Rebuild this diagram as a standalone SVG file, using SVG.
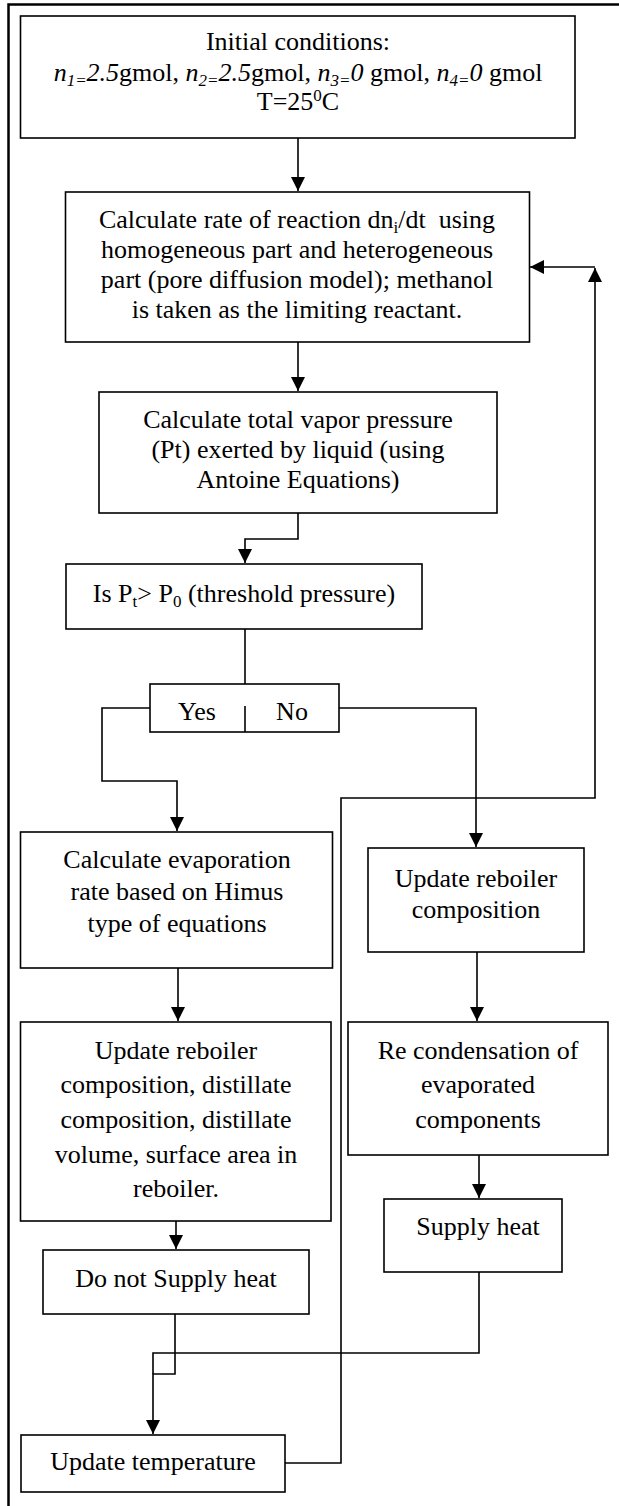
<svg xmlns="http://www.w3.org/2000/svg" width="619" height="1506" viewBox="0 0 619 1506">
<style>
.box{fill:#fff;stroke:#000;stroke-width:1.6}
.t{font-family:"Liberation Serif","Times New Roman",serif;font-size:26px;fill:#000;text-anchor:middle}
.s{font-size:17px}
.i{font-style:italic}
.c{fill:none;stroke:#000;stroke-width:1.6}
.a{marker-end:url(#ah)}
.frame{fill:none;stroke:#000;stroke-width:2.5}
</style>
<defs>
<marker id="ah" markerUnits="userSpaceOnUse" markerWidth="16" markerHeight="16" refX="14" refY="7" orient="auto">
<path d="M0,0 L14,7 L0,14 z" fill="#000"/>
</marker>
</defs>
<rect width="619" height="1506" fill="#fff"/>
<path class="frame" d="M619,4.5 L8.5,4.5 L8.5,1506"/>

<g id="connectors">
<path class="c a" d="M298,138 L298,191"/>
<path class="c a" d="M285,1463 L341,1463 L341,798 L595,798 L595,268"/>
<path class="c a" d="M595,267 L530,267"/>
<path class="c a" d="M298,342 L298,391"/>
<path class="c a" d="M298,513 L298,539 L245,539 L245,563"/>
<path class="c a" d="M245,629 L245,706"/>
<path class="c a" d="M150,708 L102,708 L102,781 L177,781 L177,831"/>
<path class="c a" d="M339,708 L476,708 L476,847"/>
<path class="c a" d="M178,968 L178,1021"/>
<path class="c a" d="M477,952 L477,1021"/>
<path class="c a" d="M479,1155 L479,1198"/>
<path class="c a" d="M176,1221 L176,1249"/>
<path class="c a" d="M175,1314 L175,1374 L153,1374 L153,1434"/>
<path class="c" d="M479,1272 L479,1353 L153,1353 L153,1374"/>
</g>

<g id="initial">
<rect class="box" x="20.5" y="16" width="554.5" height="122"/>
<text class="t" x="298" y="50">Initial conditions:</text>
<text class="t" x="298" y="81"><tspan class="i">n</tspan><tspan class="i s" dy="5">1=</tspan><tspan class="i" dy="-5">2.5</tspan>gmol, <tspan class="i">n</tspan><tspan class="i s" dy="5">2=</tspan><tspan class="i" dy="-5">2.5</tspan>gmol, <tspan class="i">n</tspan><tspan class="i s" dy="5">3=</tspan><tspan class="i" dy="-5">0</tspan> gmol, <tspan class="i">n</tspan><tspan class="i s" dy="5">4=</tspan><tspan class="i" dy="-5">0</tspan> gmol</text>
<text class="t" x="298" y="110">T=25<tspan class="s" dy="-9">0</tspan><tspan dy="9">C</tspan></text>
</g>

<g id="rate">
<rect class="box" x="65.5" y="192" width="464" height="150"/>
<text class="t" x="297" y="228">Calculate rate of reaction dn<tspan class="s" dy="5">i</tspan><tspan dy="-5">/dt&#160; using</tspan></text>
<text class="t" x="297" y="258">homogeneous part and heterogeneous</text>
<text class="t" x="297" y="288">part (pore diffusion model); methanol</text>
<text class="t" x="297" y="318">is taken as the limiting reactant.</text>
</g>

<g id="vapor">
<rect class="box" x="99" y="392" width="398" height="121"/>
<text class="t" x="298" y="428">Calculate total vapor pressure</text>
<text class="t" x="298" y="458">(Pt) exerted by liquid (using</text>
<text class="t" x="298" y="488">Antoine Equations)</text>
</g>

<g id="decision">
<rect class="box" x="66" y="564" width="356" height="65"/>
<text class="t" x="244" y="602">Is P<tspan class="s" dy="5">t</tspan><tspan dy="-5">&gt; P</tspan><tspan class="s" dy="5">0</tspan><tspan dy="-5"> (threshold pressure)</tspan></text>
</g>

<g id="yesno">
<rect class="box" x="150" y="684" width="189" height="48"/>
<path class="c" d="M245,706 L245,732"/>
<text class="t" x="197" y="720">Yes</text>
<text class="t" x="292" y="720">No</text>
</g>

<g id="evaporation">
<rect class="box" x="20.5" y="832" width="312" height="136"/>
<text class="t" x="177" y="868">Calculate evaporation</text>
<text class="t" x="177" y="900">rate based on Himus</text>
<text class="t" x="177" y="932">type of equations</text>
</g>

<g id="update-reboiler">
<rect class="box" x="368" y="848" width="216" height="104"/>
<text class="t" x="476" y="887">Update reboiler</text>
<text class="t" x="476" y="918">composition</text>
</g>

<g id="update-all">
<rect class="box" x="20.5" y="1022" width="310.5" height="199"/>
<text class="t" x="176" y="1059">Update reboiler</text>
<text class="t" x="176" y="1093">composition, distillate</text>
<text class="t" x="176" y="1128">composition, distillate</text>
<text class="t" x="176" y="1163">volume, surface area in</text>
<text class="t" x="176" y="1197">reboiler.</text>
</g>

<g id="recondensation">
<rect class="box" x="348" y="1022" width="260" height="133"/>
<text class="t" x="478" y="1059">Re condensation of</text>
<text class="t" x="478" y="1093">evaporated</text>
<text class="t" x="478" y="1128">components</text>
</g>

<g id="supply-heat">
<rect class="box" x="384" y="1199" width="178" height="73"/>
<text class="t" x="478" y="1235">Supply heat</text>
</g>

<g id="no-supply-heat">
<rect class="box" x="43" y="1250" width="266" height="64"/>
<text class="t" x="176" y="1287">Do not Supply heat</text>
</g>

<g id="update-temperature">
<rect class="box" x="21" y="1435" width="264" height="57"/>
<text class="t" x="153" y="1470">Update temperature</text>
</g>
</svg>
